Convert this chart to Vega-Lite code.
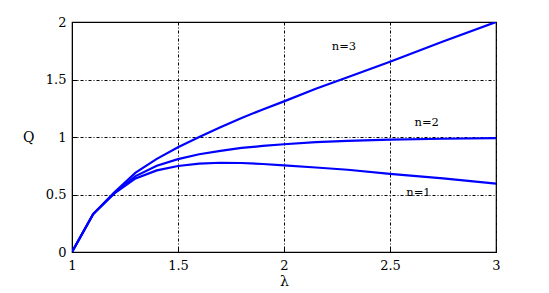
{
  "$schema": "https://vega.github.io/schema/vega-lite/v6.json",
  "width": 424,
  "height": 230,
  "autosize": "none",
  "padding": {"left": 72, "top": 22, "right": 53, "bottom": 41},
  "background": "white",
  "config": {
    "font": "DejaVu Serif",
    "view": {"stroke": "black", "strokeWidth": 1.2},
    "axis": {
      "domainColor": "black",
      "tickColor": "black",
      "labelColor": "black",
      "titleColor": "black",
      "labelFont": "DejaVu Serif",
      "titleFont": "DejaVu Serif",
      "labelFontSize": 13,
      "titleFontSize": 14,
      "titleFontWeight": "normal",
      "gridColor": "black",
      "gridOpacity": 1,
      "gridWidth": 1,
      "gridDash": [3, 2, 1, 2]
    }
  },
  "datasets": {
    "curves": [
      {"lam": 1.0, "Q": 0.0, "n": "n=1"},
      {"lam": 1.1, "Q": 0.33, "n": "n=1"},
      {"lam": 1.2, "Q": 0.51, "n": "n=1"},
      {"lam": 1.3, "Q": 0.64, "n": "n=1"},
      {"lam": 1.4, "Q": 0.71, "n": "n=1"},
      {"lam": 1.5, "Q": 0.748, "n": "n=1"},
      {"lam": 1.6, "Q": 0.768, "n": "n=1"},
      {"lam": 1.7, "Q": 0.776, "n": "n=1"},
      {"lam": 1.8, "Q": 0.774, "n": "n=1"},
      {"lam": 1.9, "Q": 0.765, "n": "n=1"},
      {"lam": 2.0, "Q": 0.753, "n": "n=1"},
      {"lam": 2.15, "Q": 0.735, "n": "n=1"},
      {"lam": 2.3, "Q": 0.715, "n": "n=1"},
      {"lam": 2.5, "Q": 0.68, "n": "n=1"},
      {"lam": 2.75, "Q": 0.64, "n": "n=1"},
      {"lam": 3.0, "Q": 0.595, "n": "n=1"},
      {"lam": 1.0, "Q": 0.0, "n": "n=2"},
      {"lam": 1.1, "Q": 0.33, "n": "n=2"},
      {"lam": 1.2, "Q": 0.515, "n": "n=2"},
      {"lam": 1.3, "Q": 0.66, "n": "n=2"},
      {"lam": 1.4, "Q": 0.75, "n": "n=2"},
      {"lam": 1.5, "Q": 0.808, "n": "n=2"},
      {"lam": 1.6, "Q": 0.85, "n": "n=2"},
      {"lam": 1.7, "Q": 0.88, "n": "n=2"},
      {"lam": 1.8, "Q": 0.905, "n": "n=2"},
      {"lam": 1.9, "Q": 0.922, "n": "n=2"},
      {"lam": 2.0, "Q": 0.937, "n": "n=2"},
      {"lam": 2.15, "Q": 0.955, "n": "n=2"},
      {"lam": 2.3, "Q": 0.967, "n": "n=2"},
      {"lam": 2.5, "Q": 0.977, "n": "n=2"},
      {"lam": 2.75, "Q": 0.985, "n": "n=2"},
      {"lam": 3.0, "Q": 0.99, "n": "n=2"},
      {"lam": 1.0, "Q": 0.0, "n": "n=3"},
      {"lam": 1.1, "Q": 0.33, "n": "n=3"},
      {"lam": 1.2, "Q": 0.52, "n": "n=3"},
      {"lam": 1.3, "Q": 0.69, "n": "n=3"},
      {"lam": 1.4, "Q": 0.81, "n": "n=3"},
      {"lam": 1.5, "Q": 0.91, "n": "n=3"},
      {"lam": 1.6, "Q": 1.0, "n": "n=3"},
      {"lam": 1.7, "Q": 1.085, "n": "n=3"},
      {"lam": 1.8, "Q": 1.165, "n": "n=3"},
      {"lam": 1.9, "Q": 1.24, "n": "n=3"},
      {"lam": 2.0, "Q": 1.31, "n": "n=3"},
      {"lam": 2.15, "Q": 1.42, "n": "n=3"},
      {"lam": 2.3, "Q": 1.52, "n": "n=3"},
      {"lam": 2.5, "Q": 1.655, "n": "n=3"},
      {"lam": 2.75, "Q": 1.83, "n": "n=3"},
      {"lam": 3.0, "Q": 2.0, "n": "n=3"}
    ],
    "labels": [
      {"lam": 2.283, "Q": 1.785, "label": "n=3"},
      {"lam": 2.673, "Q": 1.12, "label": "n=2"},
      {"lam": 2.634, "Q": 0.51, "label": "n=1"}
    ]
  },
  "layer": [
    {
      "data": {"name": "curves"},
      "mark": {"type": "line", "color": "#0000ff", "strokeWidth": 2.2, "clip": true},
      "encoding": {
        "x": {
          "field": "lam", "type": "quantitative",
          "scale": {"domain": [1, 3], "nice": false, "zero": false},
          "axis": {"title": "λ", "values": [1, 1.5, 2, 2.5, 3], "format": "~g", "tickSize": -5, "labelPadding": 12, "titlePadding": 2, "labelFlush": false}
        },
        "y": {
          "field": "Q", "type": "quantitative",
          "scale": {"domain": [0, 2], "nice": false},
          "axis": {"title": "Q", "values": [0, 0.5, 1, 1.5, 2], "format": "~g", "tickSize": -5, "labelPadding": 11, "titlePadding": 17, "titleAngle": 0, "titleBaseline": "middle", "labelFlush": false}
        },
        "detail": {"field": "n", "type": "nominal"}
      }
    },
    {
      "data": {"name": "labels"},
      "mark": {"type": "text", "font": "DejaVu Serif", "fontSize": 11.5, "color": "black"},
      "encoding": {
        "x": {"field": "lam", "type": "quantitative"},
        "y": {"field": "Q", "type": "quantitative"},
        "text": {"field": "label"}
      }
    }
  ]
}
